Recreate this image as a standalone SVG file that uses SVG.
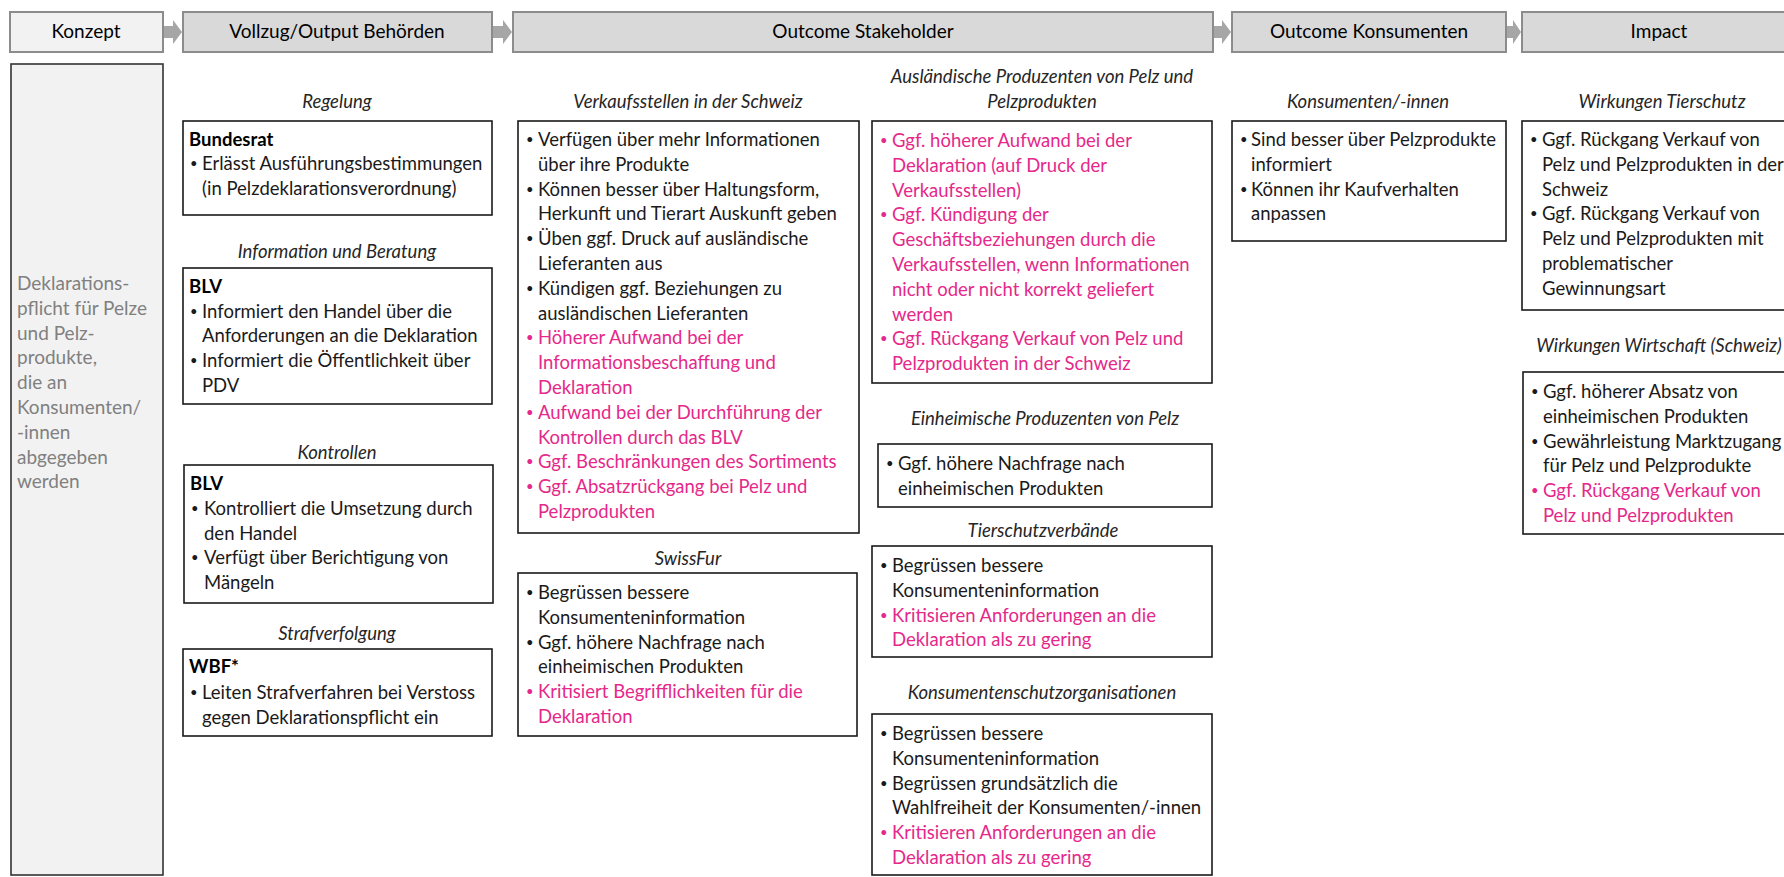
<svg xmlns="http://www.w3.org/2000/svg" width="1784" height="877" viewBox="0 0 1784 877">
<style>
  .hdr{fill:#d9d9d9;stroke:#8c8c8c;stroke-width:2}
  .hdr0{fill:#f2f2f2;stroke:#8c8c8c;stroke-width:2}
  .ht{font-family:Lato,"Liberation Sans",sans-serif;font-size:19px;fill:#000;text-anchor:middle}
  .arr{fill:#a6a6a6}
  .box{fill:#fff;stroke:#1a1a1a;stroke-width:1.6}
  .cbox{fill:#f2f2f2;stroke:#333;stroke-width:1.6}
  .t{font-family:Lato,"Liberation Sans",sans-serif;font-size:18.5px;fill:#1a1a1a}
  .p{fill:#e5288a}
  .bu{font-size:13px}
  .b{font-weight:bold;fill:#000}
  .ti{font-family:Lato,"Liberation Sans",sans-serif;font-size:18.5px;font-style:italic;fill:#262626;text-anchor:middle}
  .ct{font-family:Lato,"Liberation Sans",sans-serif;font-size:19px;fill:#808080}
</style>
<rect width="1784" height="877" fill="#fff"/>

<g id="header">
  <rect class="hdr0" x="10" y="12" width="153" height="40"/>
  <text class="ht" x="86" y="38">Konzept</text>
  <rect class="hdr" x="183" y="12" width="309" height="40"/>
  <text class="ht" x="337" y="38">Vollzug/Output Behörden</text>
  <rect class="hdr" x="513" y="12" width="700" height="40"/>
  <text class="ht" x="863" y="38">Outcome Stakeholder</text>
  <rect class="hdr" x="1232" y="12" width="274" height="40"/>
  <text class="ht" x="1369" y="38">Outcome Konsumenten</text>
  <rect class="hdr" x="1522" y="12" width="280" height="40"/>
  <text class="ht" x="1659" y="38">Impact</text>
</g>

<g id="connectors">
  <path class="arr" d="M164,26 H173 V20 L182,32 L173,44 V38 H164 Z"/>
  <path class="arr" d="M493,26 H503 V20 L512,32 L503,44 V38 H493 Z"/>
  <path class="arr" d="M1214,26 H1222 V20 L1231,32 L1222,44 V38 H1214 Z"/>
  <path class="arr" d="M1507,26 H1513 V20 L1521,32 L1513,44 V38 H1507 Z"/>
</g>

<g id="konzept">
  <rect class="cbox" x="11" y="64" width="152" height="811"/>
  <text class="ct">
    <tspan x="17" y="290">Deklarations-</tspan>
    <tspan x="17" y="314.8">pflicht für Pelze</tspan>
    <tspan x="17" y="339.6">und Pelz-</tspan>
    <tspan x="17" y="364.4">produkte,</tspan>
    <tspan x="17" y="389.2">die an</tspan>
    <tspan x="17" y="414">Konsumenten/</tspan>
    <tspan x="17" y="438.8">-innen</tspan>
    <tspan x="17" y="463.6">abgegeben</tspan>
    <tspan x="17" y="488.4">werden</tspan>
  </text>
</g>

<g id="regelung">
  <text class="ti" x="337" y="108">Regelung</text>
  <rect class="box" x="183" y="121" width="309" height="94"/>
  <text class="t b" x="189" y="146">Bundesrat</text>
  <text class="t"><tspan class="bu" x="190" y="168">•</tspan><tspan x="202" y="170">Erlässt Ausführungsbestimmungen</tspan><tspan x="202" y="195">(in Pelzdeklarationsverordnung)</tspan></text>
</g>

<g id="information">
  <text class="ti" x="337" y="258">Information und Beratung</text>
  <rect class="box" x="183" y="268" width="309" height="136"/>
  <text class="t b" x="189" y="293">BLV</text>
  <text class="t"><tspan class="bu" x="190" y="315.5">•</tspan><tspan x="202" y="317.5">Informiert den Handel über die</tspan><tspan x="202" y="342">Anforderungen an die Deklaration</tspan><tspan class="bu" x="190" y="364.5">•</tspan><tspan x="202" y="366.5">Informiert die Öffentlichkeit über</tspan><tspan x="202" y="391.5">PDV</tspan></text>
</g>

<g id="kontrollen">
  <text class="ti" x="337" y="459">Kontrollen</text>
  <rect class="box" x="184" y="465" width="309" height="138"/>
  <text class="t b" x="190" y="490">BLV</text>
  <text class="t"><tspan class="bu" x="191" y="513">•</tspan><tspan x="204" y="515">Kontrolliert die Umsetzung durch</tspan><tspan x="204" y="539.5">den Handel</tspan><tspan class="bu" x="191" y="562">•</tspan><tspan x="204" y="564">Verfügt über Berichtigung von</tspan><tspan x="204" y="588.5">Mängeln</tspan></text>
</g>

<g id="strafverfolgung">
  <text class="ti" x="337" y="640">Strafverfolgung</text>
  <rect class="box" x="183" y="649" width="309" height="87"/>
  <text class="t b" x="189" y="673">WBF*</text>
  <text class="t"><tspan class="bu" x="190" y="697">•</tspan><tspan x="202" y="699">Leiten Strafverfahren bei Verstoss</tspan><tspan x="202" y="724">gegen Deklarationspflicht ein</tspan></text>
</g>

<g id="verkaufsstellen">
  <text class="ti" x="688" y="108">Verkaufsstellen in der Schweiz</text>
  <rect class="box" x="518" y="121" width="341" height="412"/>
  <text class="t"><tspan class="bu" x="526" y="144">•</tspan><tspan x="538" y="146">Verfügen über mehr Informationen</tspan><tspan x="538" y="170.8">über ihre Produkte</tspan><tspan class="bu" x="526" y="193.6">•</tspan><tspan x="538" y="195.6">Können besser über Haltungsform,</tspan><tspan x="538" y="220.4">Herkunft und Tierart Auskunft geben</tspan><tspan class="bu" x="526" y="243.2">•</tspan><tspan x="538" y="245.2">Üben ggf. Druck auf ausländische</tspan><tspan x="538" y="270">Lieferanten aus</tspan><tspan class="bu" x="526" y="292.8">•</tspan><tspan x="538" y="294.8">Kündigen ggf. Beziehungen zu</tspan><tspan x="538" y="319.6">ausländischen Lieferanten</tspan></text>
  <text class="t p"><tspan class="bu" x="526" y="342.4">•</tspan><tspan x="538" y="344.4">Höherer Aufwand bei der</tspan><tspan x="538" y="369.2">Informationsbeschaffung und</tspan><tspan x="538" y="394">Deklaration</tspan><tspan class="bu" x="526" y="416.8">•</tspan><tspan x="538" y="418.8">Aufwand bei der Durchführung der</tspan><tspan x="538" y="443.6">Kontrollen durch das BLV</tspan><tspan class="bu" x="526" y="466.4">•</tspan><tspan x="538" y="468.4">Ggf. Beschränkungen des Sortiments</tspan><tspan class="bu" x="526" y="491.2">•</tspan><tspan x="538" y="493.2">Ggf. Absatzrückgang bei Pelz und</tspan><tspan x="538" y="518">Pelzprodukten</tspan></text>
</g>

<g id="swissfur">
  <text class="ti" x="688" y="565">SwissFur</text>
  <rect class="box" x="518" y="573" width="339" height="163"/>
  <text class="t"><tspan class="bu" x="526" y="597">•</tspan><tspan x="538" y="599">Begrüssen bessere</tspan><tspan x="538" y="623.8">Konsumenteninformation</tspan><tspan class="bu" x="526" y="646.6">•</tspan><tspan x="538" y="648.6">Ggf. höhere Nachfrage nach</tspan><tspan x="538" y="673.4">einheimischen Produkten</tspan></text>
  <text class="t p"><tspan class="bu" x="526" y="696.2">•</tspan><tspan x="538" y="698.2">Kritisiert Begrifflichkeiten für die</tspan><tspan x="538" y="723">Deklaration</tspan></text>
</g>

<g id="auslaendische">
  <text class="ti"><tspan x="1042" y="83">Ausländische Produzenten von Pelz und</tspan><tspan x="1042" y="108">Pelzprodukten</tspan></text>
  <rect class="box" x="872" y="121" width="340" height="262"/>
  <text class="t p"><tspan class="bu" x="880" y="145">•</tspan><tspan x="892" y="147">Ggf. höherer Aufwand bei der</tspan><tspan x="892" y="171.8">Deklaration (auf Druck der</tspan><tspan x="892" y="196.6">Verkaufsstellen)</tspan><tspan class="bu" x="880" y="219.4">•</tspan><tspan x="892" y="221.4">Ggf. Kündigung der</tspan><tspan x="892" y="246.2">Geschäftsbeziehungen durch die</tspan><tspan x="892" y="271">Verkaufsstellen, wenn Informationen</tspan><tspan x="892" y="295.8">nicht oder nicht korrekt geliefert</tspan><tspan x="892" y="320.6">werden</tspan><tspan class="bu" x="880" y="343.4">•</tspan><tspan x="892" y="345.4">Ggf. Rückgang Verkauf von Pelz und</tspan><tspan x="892" y="370.2">Pelzprodukten in der Schweiz</tspan></text>
</g>

<g id="einheimische">
  <text class="ti" x="1045" y="425">Einheimische Produzenten von Pelz</text>
  <rect class="box" x="878" y="444" width="334" height="63"/>
  <text class="t"><tspan class="bu" x="886" y="468">•</tspan><tspan x="898" y="470">Ggf. höhere Nachfrage nach</tspan><tspan x="898" y="494.8">einheimischen Produkten</tspan></text>
</g>

<g id="tierschutzverbaende">
  <text class="ti" x="1043" y="537">Tierschutzverbände</text>
  <rect class="box" x="872" y="546" width="340" height="111"/>
  <text class="t"><tspan class="bu" x="880" y="570">•</tspan><tspan x="892" y="572">Begrüssen bessere</tspan><tspan x="892" y="596.8">Konsumenteninformation</tspan></text>
  <text class="t p"><tspan class="bu" x="880" y="619.6">•</tspan><tspan x="892" y="621.6">Kritisieren Anforderungen an die</tspan><tspan x="892" y="646.4">Deklaration als zu gering</tspan></text>
</g>

<g id="konsumentenschutz">
  <text class="ti" x="1042" y="699">Konsumentenschutzorganisationen</text>
  <rect class="box" x="872" y="714" width="340" height="161"/>
  <text class="t"><tspan class="bu" x="880" y="738">•</tspan><tspan x="892" y="740">Begrüssen bessere</tspan><tspan x="892" y="764.8">Konsumenteninformation</tspan><tspan class="bu" x="880" y="787.6">•</tspan><tspan x="892" y="789.6">Begrüssen grundsätzlich die</tspan><tspan x="892" y="814.4">Wahlfreiheit der Konsumenten/-innen</tspan></text>
  <text class="t p"><tspan class="bu" x="880" y="837.2">•</tspan><tspan x="892" y="839.2">Kritisieren Anforderungen an die</tspan><tspan x="892" y="864">Deklaration als zu gering</tspan></text>
</g>

<g id="konsumenten">
  <text class="ti" x="1368" y="108">Konsumenten/-innen</text>
  <rect class="box" x="1232" y="121" width="274" height="120"/>
  <text class="t"><tspan class="bu" x="1240" y="144">•</tspan><tspan x="1251" y="146">Sind besser über Pelzprodukte</tspan><tspan x="1251" y="170.8">informiert</tspan><tspan class="bu" x="1240" y="193.6">•</tspan><tspan x="1251" y="195.6">Können ihr Kaufverhalten</tspan><tspan x="1251" y="220.4">anpassen</tspan></text>
</g>

<g id="wirkungen-tierschutz">
  <text class="ti" x="1662" y="108">Wirkungen Tierschutz</text>
  <rect class="box" x="1522" y="121" width="280" height="189"/>
  <text class="t"><tspan class="bu" x="1530" y="144">•</tspan><tspan x="1542" y="146">Ggf. Rückgang Verkauf von</tspan><tspan x="1542" y="170.8">Pelz und Pelzprodukten in der</tspan><tspan x="1542" y="195.6">Schweiz</tspan><tspan class="bu" x="1530" y="218.4">•</tspan><tspan x="1542" y="220.4">Ggf. Rückgang Verkauf von</tspan><tspan x="1542" y="245.2">Pelz und  Pelzprodukten mit</tspan><tspan x="1542" y="270">problematischer</tspan><tspan x="1542" y="294.8">Gewinnungsart</tspan></text>
</g>

<g id="wirkungen-wirtschaft">
  <text class="ti" x="1659" y="352">Wirkungen Wirtschaft (Schweiz)</text>
  <rect class="box" x="1523" y="372" width="280" height="162"/>
  <text class="t"><tspan class="bu" x="1531" y="396">•</tspan><tspan x="1543" y="398">Ggf. höherer Absatz von</tspan><tspan x="1543" y="422.8">einheimischen Produkten</tspan><tspan class="bu" x="1531" y="445.6">•</tspan><tspan x="1543" y="447.6">Gewährleistung Marktzugang</tspan><tspan x="1543" y="472.4">für Pelz und Pelzprodukte</tspan></text>
  <text class="t p"><tspan class="bu" x="1531" y="495.2">•</tspan><tspan x="1543" y="497.2">Ggf. Rückgang Verkauf von</tspan><tspan x="1543" y="522">Pelz und Pelzprodukten</tspan></text>
</g>
</svg>
